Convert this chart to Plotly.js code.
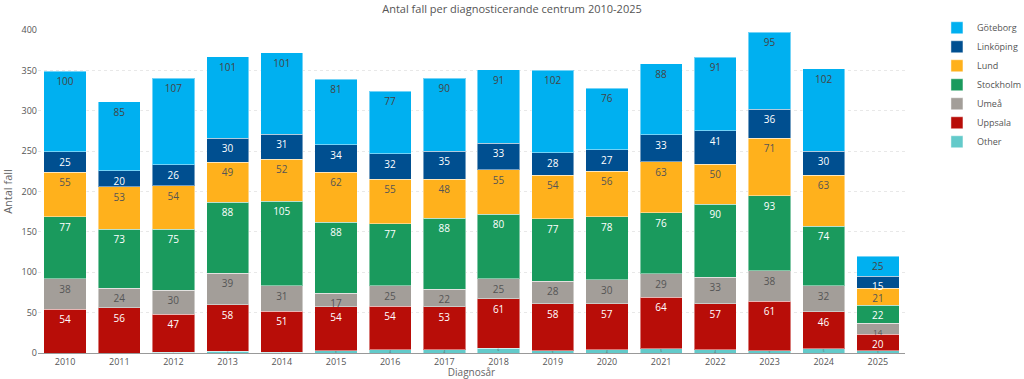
<!DOCTYPE html>
<html>
<head>
<meta charset="utf-8">
<script src="https://cdn.plot.ly/plotly-3.0.1.min.js"></script>
<style>html,body{margin:0;padding:0;background:#fff;}#chart{width:1024px;height:379px;}</style>
</head>
<body>
<div id="chart"></div>
<script>
var years = ["2010","2011","2012","2013","2014","2015","2016","2017","2018","2019","2020","2021","2022","2023","2024","2025"];
var other     = [0, 0, 1, 2, 1, 3, 4, 4, 6, 3, 4, 5, 4, 3, 5, 3];
var uppsala   = [54, 56, 47, 58, 51, 54, 54, 53, 61, 58, 57, 64, 57, 61, 46, 20];
var umea      = [38, 24, 30, 39, 31, 17, 25, 22, 25, 28, 30, 29, 33, 38, 32, 14];
var stockholm = [77, 73, 75, 88, 105, 88, 77, 88, 80, 77, 78, 76, 90, 93, 74, 22];
var lund      = [55, 53, 54, 49, 52, 62, 55, 48, 55, 54, 56, 63, 50, 71, 63, 21];
var linkoping = [25, 20, 26, 30, 31, 34, 32, 35, 33, 28, 27, 33, 41, 36, 30, 15];
var goteborg  = [100, 85, 107, 101, 101, 81, 77, 90, 91, 102, 76, 88, 91, 95, 102, 25];

var seriesNames = ["Other", "Uppsala", "Umeå", "Stockholm", "Lund", "Linköping", "Göteborg"];
var seriesData = [other, uppsala, umea, stockholm, lund, linkoping, goteborg];
var colors = ["#63CACA", "#B80D08", "#A39E99", "#1A9A5D", "#FFB11C", "#004F90", "#00B0F0"];
var textColors = ["#555555", "#ffffff", "#555555", "#ffffff", "#555555", "#ffffff", "#444444"];

// label size: shrink only where the segment is too short for the text
function labelSizes(vals){
  return vals.map(function(v){ return v < 10 ? 3 : (v < 15 ? 8 : 10); });
}

var traces = seriesNames.map(function(n, i){
  return {
    type: "bar",
    name: n,
    x: years,
    y: seriesData[i],
    text: seriesData[i].map(function(v){ return v > 0 ? String(v) : ""; }),
    textposition: "inside",
    insidetextanchor: "end",
    textangle: 0,
    constraintext: "none",
    insidetextfont: {family: "Open Sans, sans-serif", size: labelSizes(seriesData[i]), color: textColors[i]},
    marker: {color: colors[i], line: {color: "rgba(255,255,255,0.45)", width: 1}},
    hoverinfo: "x+y+name"
  };
});

var layout = {
  width: 1024, height: 379,
  barmode: "stack",
  bargap: 0.22,
  paper_bgcolor: "#ffffff",
  plot_bgcolor: "#ffffff",
  font: {family: "Open Sans, sans-serif", size: 10, color: "#666666"},
  title: {text: "Antal fall per diagnosticerande centrum 2010-2025", x: 0.5, xanchor: "center", y: 0.985, yanchor: "top", font: {size: 11, color: "#555555"}},
  margin: {l: 38, r: 119, t: 30, b: 26},
  xaxis: {
    type: "category",
    title: {text: "Diagnosår", font: {size: 10, color: "#666666"}, standoff: 2},
    tickfont: {size: 9, color: "#555555"},
    showline: true, linecolor: "#999999", linewidth: 1,
    showgrid: false, ticks: ""
  },
  yaxis: {
    title: {text: "Antal fall", font: {size: 11, color: "#666666"}, standoff: 6},
    range: [0, 400],
    dtick: 50,
    tickfont: {size: 9, color: "#555555"},
    gridcolor: "#e8e8e8", griddash: "dot", gridwidth: 1,
    zeroline: true, zerolinecolor: "#bbbbbb", zerolinewidth: 1
  },
  legend: {xref: "container", yref: "container", x: 0.915, xanchor: "left", y: 0.965, yanchor: "top", font: {size: 9, color: "#555555"}, traceorder: "reversed"},
  showlegend: true
};

Plotly.newPlot("chart", traces, layout, {displayModeBar: false, staticPlot: true});
</script>
</body>
</html>
